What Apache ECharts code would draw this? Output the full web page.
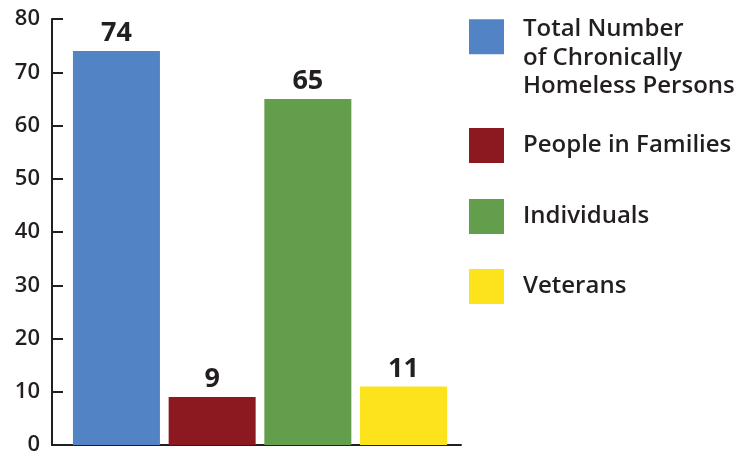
<!DOCTYPE html>
<html>
<head>
<meta charset="utf-8">
<script src="https://cdn.jsdelivr.net/npm/echarts@6/dist/echarts.min.js"></script>
<style>html,body{margin:0;padding:0;background:#fff}#c{width:756px;height:458px}</style>
</head>
<body>
<div id="c"></div>
<script>
const categories = ['Chronically Homeless'];
const seriesNames = ['Total Number of Chronically Homeless Persons', 'People in Families', 'Individuals', 'Veterans'];
const legendLines = [['Total Number', 'of Chronically', 'Homeless Persons'], ['People in Families'], ['Individuals'], ['Veterans']];
const seriesValues = [74, 9, 65, 11];
const seriesColors = ['#5283c5', '#8c1920', '#629e4b', '#fce31b'];
const yTicks = [0, 10, 20, 30, 40, 50, 60, 70, 80];

const ink = '#231f20';
const font = '"Open Sans", "Noto Sans", sans-serif';
const chart = echarts.init(document.getElementById('c'), null, {renderer: 'canvas'});

const legendTops = [-11, 128, 199, 269];
const legends = seriesNames.map((n, i) => ({
  data: [n],
  orient: 'vertical',
  left: 469,
  top: legendTops[i],
  padding: 0,
  itemWidth: 35,
  itemHeight: 35,
  icon: 'rect',
  selectedMode: false,
  formatter: () => (i === 0 ? '{gap| }\n' : '') + legendLines[i].map(l => '{t|' + l + '}').join('\n'),
  textStyle: {
    fontFamily: font, fontSize: 24, color: ink,
    rich: {
      gap: {fontSize: 10, lineHeight: 42},
      t: {fontFamily: font, fontSize: 24, fontWeight: 600, color: ink, lineHeight: 28.5, padding: [0, 0, 0, 14]}
    }
  }
}));

chart.setOption({
  animation: false,
  textStyle: {fontFamily: font},
  legend: legends,
  grid: [
    {left: 52, right: 295, top: 19, bottom: 13, containLabel: false},
    {left: 52, right: 288, top: 19, bottom: 13, containLabel: false}
  ],
  xAxis: [{
    type: 'category', data: categories, gridIndex: 0,
    axisLine: {show: true, lineStyle: {color: ink, width: 2}},
    axisTick: {show: false},
    axisLabel: {show: false}
  }, {
    type: 'category', data: categories, gridIndex: 1, show: false
  }],
  yAxis: [{
    type: 'value', gridIndex: 0, min: yTicks[0], max: yTicks[yTicks.length - 1], interval: 10,
    splitLine: {show: false},
    axisLine: {show: true, lineStyle: {color: ink, width: 2}},
    axisTick: {show: true, inside: true, length: 11, lineStyle: {color: ink, width: 2}},
    axisLabel: {color: ink, fontSize: 22, fontWeight: 600, fontFamily: font, margin: 12}
  }, {
    type: 'value', gridIndex: 1, min: yTicks[0], max: yTicks[yTicks.length - 1], interval: 10, show: false
  }],
  series: seriesNames.map((n, i) => ({
    type: 'bar', name: n, xAxisIndex: 1, yAxisIndex: 1,
    data: [seriesValues[i]],
    barWidth: 87, barGap: '10%',
    itemStyle: {color: seriesColors[i]},
    label: {show: true, position: 'top', distance: 4, color: ink, fontSize: 27, fontWeight: 'bold', fontFamily: font}
  }))
});
</script>
</body>
</html>
